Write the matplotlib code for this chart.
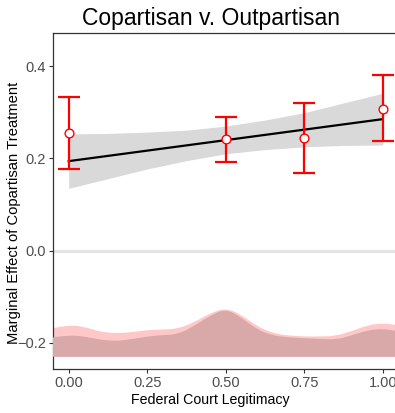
import matplotlib
matplotlib.use("Agg")
import matplotlib.pyplot as plt
from matplotlib.path import Path
from matplotlib.patches import PathPatch

plt.rcParams['font.family'] = ['Liberation Sans', 'DejaVu Sans']

# estimated marginal effects at the bins
bin_x = [0.0, 0.5, 0.75, 1.0]
bin_est = [0.254, 0.241, 0.245, 0.308]
bin_lo = [0.176, 0.193, 0.169, 0.237]
bin_hi = [0.332, 0.290, 0.321, 0.380]

# linear fit and its confidence band
fit_x = [0.0, 1.0]
fit_y = [0.194, 0.285]
band_x = [0.0, 0.125, 0.25, 0.375, 0.5, 0.625, 0.75, 0.875, 1.0]
band_lo = [0.135, 0.156, 0.177, 0.195, 0.210, 0.219, 0.225, 0.228, 0.229]
band_hi = [0.253, 0.254, 0.257, 0.261, 0.270, 0.283, 0.299, 0.320, 0.341]

# distribution of the moderator (drawn at the bottom)
dens_x = [-0.05, 0.0, 0.05, 0.10, 0.15, 0.20, 0.25, 0.30, 0.35, 0.40, 0.45, 0.50,
          0.55, 0.60, 0.65, 0.70, 0.75, 0.80, 0.85, 0.90, 0.95, 1.00, 1.05]
dens_treat = [-0.168, -0.161, -0.165, -0.176, -0.179, -0.177, -0.172, -0.171,
              -0.169, -0.155, -0.136, -0.124, -0.139, -0.164, -0.179, -0.184,
              -0.186, -0.186, -0.185, -0.175, -0.162, -0.157, -0.162]
dens_ctrl = [-0.188, -0.183, -0.186, -0.193, -0.196, -0.192, -0.186, -0.183,
             -0.181, -0.163, -0.141, -0.126, -0.145, -0.171, -0.184, -0.188,
             -0.190, -0.191, -0.193, -0.184, -0.173, -0.169, -0.175]
dens_base = -0.230

x_ticks = [0.0, 0.25, 0.5, 0.75, 1.0]
x_ticklabels = ['0.00', '0.25', '0.50', '0.75', '1.00']
y_ticks = [-0.2, 0.0, 0.2, 0.4]
y_ticklabels = ['\u22120.2', '0.0', '0.2', '0.4']


def smooth_area(ax, xs, ys, base, color, z):
    """Filled area under a curve drawn with quadratic Bezier segments."""
    verts = [(xs[0], base), (xs[0], ys[0])]
    codes = [Path.MOVETO, Path.LINETO]
    for i in range(1, len(xs) - 1):
        mid = ((xs[i] + xs[i + 1]) / 2, (ys[i] + ys[i + 1]) / 2)
        verts += [(xs[i], ys[i]), mid]
        codes += [Path.CURVE3, Path.CURVE3]
    verts += [(xs[-1], ys[-1]), (xs[-1], base), (xs[0], base)]
    codes += [Path.LINETO, Path.LINETO, Path.CLOSEPOLY]
    ax.add_patch(PathPatch(Path(verts, codes), facecolor=color, lw=0, zorder=z))


W, H = 395, 413
fig = plt.figure(figsize=(W / 100, H / 100), dpi=100)
ax = fig.add_axes([53 / W, 1 - 369 / H, 345.4 / W, 336 / H])

ax.axhline(0, color='#e5e5e5', lw=2.3, zorder=1)
smooth_area(ax, dens_x, dens_treat, dens_base, '#ffc8c8', 2)
smooth_area(ax, dens_x, dens_ctrl, dens_base, '#d9a8a8', 3)

ax.fill_between(band_x, band_lo, band_hi, color='#d9d9d9', lw=0, zorder=4)
ax.plot(fit_x, fit_y, color='black', lw=1.6, zorder=5)

yerr = [[e - l for e, l in zip(bin_est, bin_lo)],
        [h - e for e, h in zip(bin_est, bin_hi)]]
ax.errorbar(bin_x, bin_est, yerr=yerr, fmt='none', ecolor='red', elinewidth=1.6,
            capsize=8, capthick=1.6, zorder=6)
ax.plot(bin_x, bin_est, 'o', mfc='white', mec='red', ms=6.3, mew=1.0, zorder=7)

ax.set_xlim(-0.05, 1.05)
ax.set_ylim(-0.2565, 0.4717)
ax.set_xticks(x_ticks)
ax.set_xticklabels(x_ticklabels)
ax.set_yticks(y_ticks)
ax.set_yticklabels(y_ticklabels)
ax.tick_params(length=3, width=0.8, color='#333333', labelcolor='#4d4d4d',
               labelsize=10.5, pad=2)
for s in ax.spines.values():
    s.set_color('#333333')
    s.set_linewidth(0.9)

fig.text(211 / W, 1 - 25 / H, 'Copartisan v. Outpartisan', ha='center',
         va='baseline', fontsize=16.5, color='black')
fig.text(210.5 / W, 1 - 404 / H, 'Federal Court Legitimacy', ha='center',
         va='baseline', fontsize=10.2, color='black')
fig.text(14 / W, 1 - 213 / H, 'Marginal Effect of Copartisan Treatment',
         ha='center', va='center', rotation=90, fontsize=10.6, color='black')

fig.savefig('out.png', dpi=100)
